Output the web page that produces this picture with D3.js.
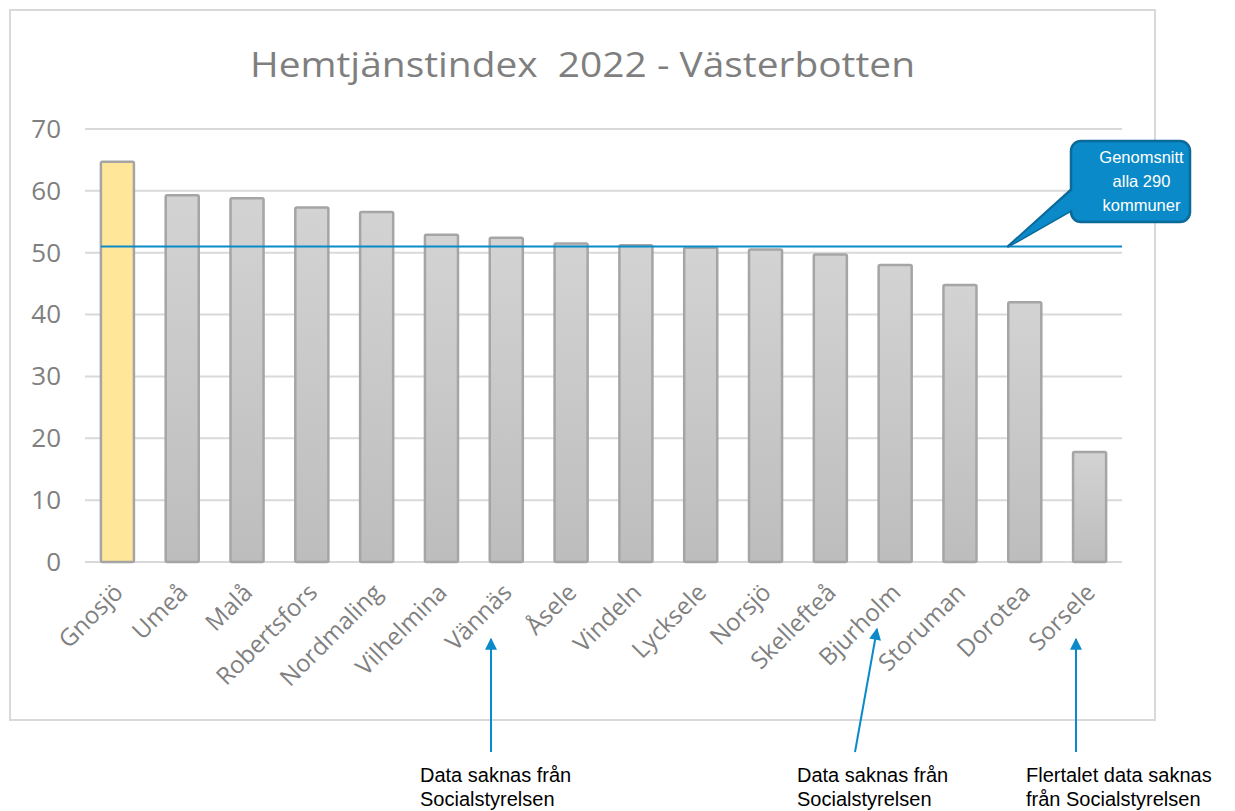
<!DOCTYPE html>
<html>
<head>
<meta charset="utf-8">
<script src="https://cdn.jsdelivr.net/npm/d3@7"></script>
<style>
  body { margin: 0; background: #fff; }
</style>
</head>
<body>
<script>
// data
var kommuner = ["Gnosjö", "Umeå", "Malå", "Robertsfors", "Nordmaling", "Vilhelmina", "Vännäs", "Åsele",
                "Vindeln", "Lycksele", "Norsjö", "Skellefteå", "Bjurholm", "Storuman", "Dorotea", "Sorsele"];
var index2022 = [64.7, 59.3, 58.8, 57.3, 56.6, 52.9, 52.4, 51.5, 51.2, 50.8, 50.5, 49.7, 48.0, 44.8, 42.0, 17.8];
var genomsnitt = 51.0;
var yTicks = [0, 10, 20, 30, 40, 50, 60, 70];
var highlight = "Gnosjö";
var notes = [
  { kommun: "Vännäs", lines: ["Data saknas från", "Socialstyrelsen"] },
  { kommun: "Bjurholm", lines: ["Data saknas från", "Socialstyrelsen"] },
  { kommun: "Sorsele", lines: ["Flertalet data saknas", "från Socialstyrelsen"] }
];

var width = 1235, height = 811;
var margin = { left: 85, right: 113, top: 129, bottom: 249 };

var svg = d3.select("body").append("svg")
    .attr("width", width)
    .attr("height", height);

var defs = svg.append("defs");
var grad = defs.append("linearGradient").attr("id", "barGrad")
    .attr("x1", 0).attr("y1", 0).attr("x2", 0).attr("y2", 1);
grad.append("stop").attr("offset", "0%").attr("stop-color", "#d3d3d3");
grad.append("stop").attr("offset", "100%").attr("stop-color", "#bdbdbd");

defs.append("marker").attr("id", "pil")
    .attr("viewBox", "0 0 10 10").attr("refX", 9).attr("refY", 5)
    .attr("markerWidth", 14).attr("markerHeight", 12)
    .attr("markerUnits", "userSpaceOnUse")
    .attr("orient", "auto")
    .append("path").attr("d", "M0,0 L10,5 L0,10 Z").attr("fill", "#0a8ac8");

// chart frame
svg.append("rect")
    .attr("x", 10).attr("y", 10)
    .attr("width", 1145).attr("height", 710)
    .attr("fill", "#fff")
    .attr("stroke", "#d9d9d9").attr("stroke-width", 2);

svg.append("text")
    .attr("x", 250).attr("y", 77)
    .attr("textLength", 665)
    .attr("lengthAdjust", "spacingAndGlyphs")
    .style("white-space", "pre")
    .style("font-family", "'Open Sans', sans-serif")
    .style("font-size", "35px")
    .style("fill", "#7f7f7f")
    .text("Hemtjänstindex  2022 - Västerbotten");

var x = d3.scaleBand()
    .domain(kommuner)
    .range([margin.left, width - margin.right])
    .paddingInner(0.49).paddingOuter(0.245);

var y = d3.scaleLinear()
    .domain([0, 70])
    .range([562, 129]);

// grid lines
svg.append("g")
    .selectAll("line")
    .data(yTicks)
    .enter().append("line")
    .attr("x1", margin.left).attr("x2", width - margin.right)
    .attr("y1", function(d) { return y(d); })
    .attr("y2", function(d) { return y(d); })
    .attr("stroke", "#d9d9d9").attr("stroke-width", 2);

// y axis labels
var yAxis = svg.append("g")
    .attr("transform", "translate(" + (margin.left - 24) + ",0)")
    .call(d3.axisLeft(y).tickValues(yTicks).tickSize(0).tickPadding(0));
yAxis.select(".domain").remove();
yAxis.selectAll("text")
    .style("font-family", "'Open Sans', sans-serif")
    .style("font-size", "26px")
    .style("fill", "#808080");

// bars
svg.append("g")
    .selectAll("rect")
    .data(kommuner)
    .enter().append("rect")
    .attr("x", function(d) { return x(d); })
    .attr("y", function(d, i) { return y(index2022[i]); })
    .attr("width", x.bandwidth())
    .attr("height", function(d, i) { return y(0) - y(index2022[i]); })
    .attr("fill", function(d) { return d === highlight ? "#ffe699" : "url(#barGrad)"; })
    .attr("stroke", "#a5a5a5").attr("stroke-width", 2.5)
    .attr("rx", 1.5);

// x axis labels (rotated)
var xAxis = svg.append("g")
    .attr("transform", "translate(0," + y(0) + ")")
    .call(d3.axisBottom(x).tickSize(0).tickPadding(0));
xAxis.select(".domain").remove();
xAxis.selectAll("text")
    .attr("text-anchor", "end")
    .attr("dy", null)
    .attr("transform", "translate(7,32) rotate(-45)")
    .style("font-family", "'Open Sans', sans-serif")
    .style("font-size", "24px")
    .style("fill", "#808080");

// average line
svg.append("line")
    .attr("x1", x(kommuner[0])).attr("x2", width - margin.right)
    .attr("y1", y(genomsnitt)).attr("y2", y(genomsnitt))
    .attr("stroke", "#0a8ac8").attr("stroke-width", 2);

// callout
var bx = 1071, by = 141, bw = 119, bh = 81;
var tipX = 1008, tipY = y(genomsnitt);
svg.append("path")
    .attr("d", "M" + (bx + 3) + "," + (by + 46) + " L" + tipX + "," + tipY + " L" + (bx + 3) + "," + (by + 68) + " Z")
    .attr("fill", "#0a8ac8").attr("stroke", "#0b6a9a").attr("stroke-width", 2.5)
    .attr("stroke-linejoin", "round");
svg.append("rect")
    .attr("x", bx).attr("y", by).attr("width", bw).attr("height", bh)
    .attr("rx", 10)
    .attr("fill", "#0a8ac8").attr("stroke", "#0b6a9a").attr("stroke-width", 2.5);
svg.append("path")
    .attr("d", "M" + (bx + 4) + "," + (by + 47) + " L" + (tipX + 3) + "," + (tipY - 2) + " L" + (bx + 4) + "," + (by + 67) + " Z")
    .attr("fill", "#0a8ac8");
svg.append("text")
    .attr("text-anchor", "middle")
    .style("font-family", "'Liberation Sans', Arial, sans-serif")
    .style("font-size", "16.5px")
    .style("fill", "#fff")
    .selectAll("tspan")
    .data(["Genomsnitt", "alla 290", "kommuner"])
    .enter().append("tspan")
    .attr("x", bx + bw / 2 + 11)
    .attr("y", function(d, i) { return by + 22 + i * 24; })
    .text(function(d) { return d; });

// notes with arrows
var arrowStart = { "Vännäs": 491, "Bjurholm": 855, "Sorsele": 1076 };
var textLeft = { "Vännäs": 420, "Bjurholm": 797, "Sorsele": 1026 };
var arrowEnd = { "Vännäs": [491, 639], "Bjurholm": [877, 629], "Sorsele": [1076, 639] };

notes.forEach(function(n) {
    svg.append("line")
        .attr("x1", arrowStart[n.kommun]).attr("y1", 752)
        .attr("x2", arrowEnd[n.kommun][0]).attr("y2", arrowEnd[n.kommun][1])
        .attr("stroke", "#0a8ac8").attr("stroke-width", 2)
        .attr("marker-end", "url(#pil)");
    svg.append("text")
        .style("font-family", "'Liberation Sans Narrow', 'Liberation Sans', Arial, sans-serif")
        .style("font-size", "20px")
        .style("fill", "#000")
        .selectAll("tspan")
        .data(n.lines)
        .enter().append("tspan")
        .attr("x", textLeft[n.kommun])
        .attr("y", function(d, i) { return 782 + i * 24; })
        .text(function(d) { return d; });
});
</script>
</body>
</html>
